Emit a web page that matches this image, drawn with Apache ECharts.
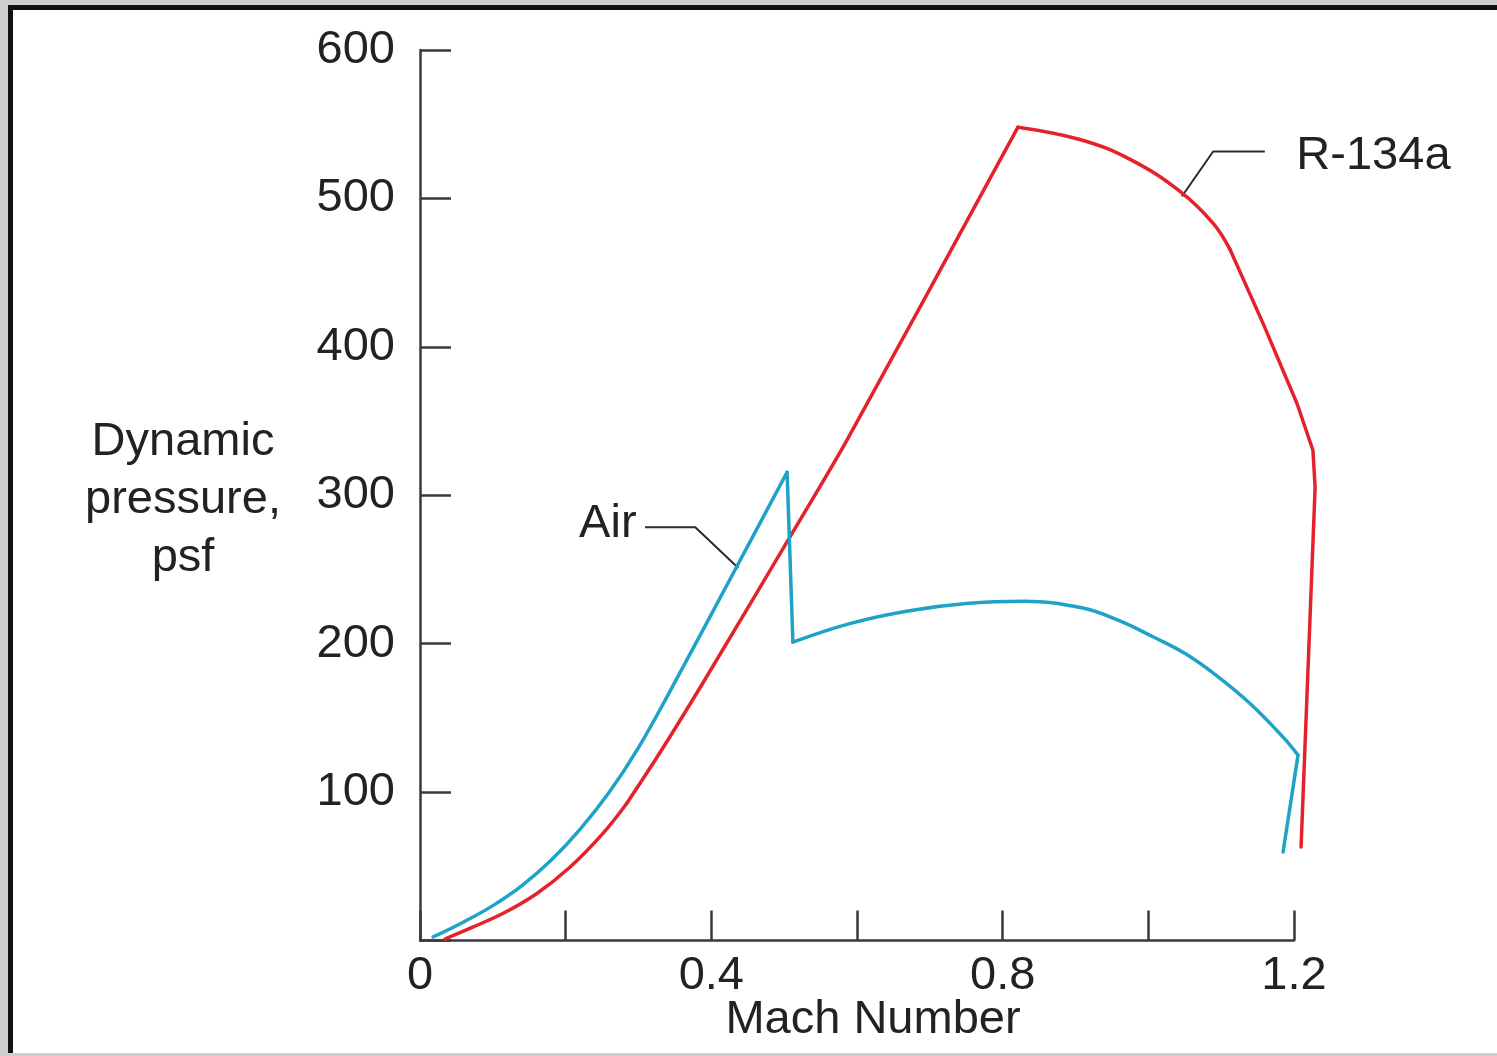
<!DOCTYPE html>
<html>
<head>
<meta charset="utf-8">
<script src="https://cdn.jsdelivr.net/npm/echarts@6/dist/echarts.min.js"></script>
<style>
  html, body { margin: 0; padding: 0; width: 1497px; height: 1056px; background: #cfcfcf; overflow: hidden; }
  #frame { position: absolute; left: 8px; top: 5px; right: 0; bottom: 3px; background: #ffffff;
           border-top: 5px solid #111; border-left: 5px solid #111; }
  #chart { position: absolute; left: 0; top: 0; width: 1497px; height: 1056px; }
</style>
</head>
<body>
<div id="frame"></div>
<div id="chart"></div>
<script>
// ---- data ----
const r134aMach = [0.034, 0.070, 0.115, 0.160, 0.205, 0.250, 0.284,
                   0.330, 0.389, 0.508, 0.586, 0.821,
                   0.906, 0.975, 1.0435, 1.089, 1.112,
                   1.1575, 1.204, 1.226, 1.229, 1.2097];
const r134aQ    = [1, 8.5, 18.5, 31.5, 49, 71.5, 92.5,
                   127, 174, 272, 337, 548,
                   539.7, 526.3, 504.7, 483.2, 465.7,
                   415.8, 362, 330.3, 305.4, 63];

const airMach = [0.018, 0.060, 0.100, 0.140, 0.180, 0.220, 0.260, 0.300, 0.340, 0.435, 0.504,
                 0.512, 0.590, 0.670, 0.750, 0.830, 0.910, 0.960, 1.005, 1.050, 1.095, 1.140, 1.185, 1.2055,
                 1.185];
const airQ    = [2.4, 12.5, 23.5, 37, 54, 75, 100, 130, 165, 252, 315.5,
                 201, 213.5, 222, 227, 228.5, 224, 215.5, 205, 193.5, 178, 159.5, 137, 124.9,
                 59.6];

// index ranges [first, last, smoothness] of the pieces between the corners of each drawn curve
const r134aPieces = [[0, 6, 0.4], [6, 11, 0.3], [11, 16, 0.4], [16, 21, 0]];
const airPieces   = [[0, 10, 0.4], [10, 11, 0], [11, 23, 0.4], [23, 24, 0]];

const airLeaderMach = [0.309, 0.378, 0.437];
const airLeaderQ    = [278.5, 278.5, 251];
const r134aLeaderMach = [1.160, 1.089, 1.046];
const r134aLeaderQ    = [531.6, 531.6, 501.3];

const xTickLabels = ['0', '0.4', '0.8', '1.2'];
const yTickLabels = ['100', '200', '300', '400', '500', '600'];
const seriesNames = ['Air', 'R-134a'];

const zip = (a, b) => a.map((v, i) => [v, b[i]]);

const FONT = '"Liberation Sans", Arial, Helvetica, sans-serif';
const TXT = '#222';
const AXIS = '#3a3a3a';
const RED = '#e4222b';
const BLUE = '#1fa2c7';

// plot area: x 0..1.2 spans 874 px; a second, wider (hidden) grid with the same scale
// lets the curves run past Mach 1.2 without being clipped.
const GRID_LEFT = 420, GRID_TOP = 50, GRID_BOTTOM = 115.5, GRID_RIGHT = 203;
const W = 1497;
const pxPerUnit = (W - GRID_LEFT - GRID_RIGHT) / 1.2;
const X2_MAX = 1.3;
const GRID2_RIGHT = W - GRID_LEFT - X2_MAX * pxPerUnit;

function pieceSeries(name, xs, ys, pieces, color, z) {
  const pts = zip(xs, ys);
  return pieces.map(([a, b, s]) => ({
    name, type: 'line', xAxisIndex: 1, yAxisIndex: 1,
    data: pts.slice(a, b + 1), showSymbol: false, clip: false,
    smooth: s > 0 ? s : false,
    lineStyle: { color, width: 3.5, cap: 'round', join: 'round' }, z
  }));
}

const chart = echarts.init(document.getElementById('chart'), null, { renderer: 'canvas' });
chart.setOption({
  backgroundColor: 'transparent',
  animation: false,
  textStyle: { fontFamily: FONT },
  grid: [
    { left: GRID_LEFT, right: GRID_RIGHT, top: GRID_TOP, bottom: GRID_BOTTOM, containLabel: false },
    { left: GRID_LEFT, right: GRID2_RIGHT, top: GRID_TOP, bottom: GRID_BOTTOM, containLabel: false }
  ],
  xAxis: [{
    type: 'value', gridIndex: 0, min: 0, max: 1.2, interval: 0.2,
    axisLine: { show: true, lineStyle: { color: AXIS, width: 2.5 } },
    axisTick: { show: true, inside: true, length: 30, lineStyle: { color: AXIS, width: 2.5 } },
    splitLine: { show: false },
    axisLabel: {
      color: TXT, fontSize: 47, fontFamily: FONT, margin: 12,
      formatter: v => { const s = String(Math.round(v * 10) / 10); return xTickLabels.includes(s) ? s : ''; }
    }
  }, {
    type: 'value', gridIndex: 1, min: 0, max: X2_MAX, show: false, splitLine: { show: false }
  }],
  yAxis: [{
    type: 'value', gridIndex: 0, min: 0, max: 600, interval: 100,
    axisLine: { show: true, lineStyle: { color: AXIS, width: 2.5 } },
    axisTick: { show: true, inside: true, length: 31, lineStyle: { color: AXIS, width: 2.5 } },
    splitLine: { show: false },
    axisLabel: {
      color: TXT, fontSize: 47, fontFamily: FONT, margin: 25,
      formatter: v => { const s = String(Math.round(v)); return yTickLabels.includes(s) ? s : ''; }
    }
  }, {
    type: 'value', gridIndex: 1, min: 0, max: 600, show: false, splitLine: { show: false }
  }],
  series: [
    ...pieceSeries(seriesNames[1], r134aMach, r134aQ, r134aPieces, RED, 3),
    ...pieceSeries(seriesNames[0], airMach, airQ, airPieces, BLUE, 4),
    {
      name: 'airLeader', type: 'line', xAxisIndex: 1, yAxisIndex: 1, data: zip(airLeaderMach, airLeaderQ),
      showSymbol: false, clip: false, lineStyle: { color: '#2a2a2a', width: 2 }, z: 2
    },
    {
      name: 'r134aLeader', type: 'line', xAxisIndex: 1, yAxisIndex: 1, data: zip(r134aLeaderMach, r134aLeaderQ),
      showSymbol: false, clip: false, lineStyle: { color: '#2a2a2a', width: 2 }, z: 2
    },
    {
      name: 'labels', type: 'scatter', xAxisIndex: 1, yAxisIndex: 1, symbolSize: 1,
      itemStyle: { color: 'rgba(0,0,0,0)', opacity: 1 }, clip: false, silent: true,
      data: [
        { value: [airLeaderMach[0], airLeaderQ[0]],
          label: { show: true, position: 'left', distance: 8, offset: [0, -3], formatter: seriesNames[0],
                   color: TXT, opacity: 1, fontSize: 47, fontFamily: FONT } },
        { value: [r134aLeaderMach[0], r134aLeaderQ[0]],
          label: { show: true, position: 'right', distance: 31, offset: [0, 5], formatter: seriesNames[1],
                   color: TXT, opacity: 1, fontSize: 47, fontFamily: FONT } }
      ]
    }
  ],
  graphic: [
    { type: 'text', x: 183, y: 500, style: {
        text: 'Dynamic\npressure,\npsf', align: 'center', verticalAlign: 'middle',
        fill: TXT, font: '47px ' + FONT, lineHeight: 58 } },
    { type: 'text', x: 873, y: 1020, style: {
        text: 'Mach Number', align: 'center', verticalAlign: 'middle',
        fill: TXT, font: '47px ' + FONT } }
  ]
});
</script>
</body>
</html>
